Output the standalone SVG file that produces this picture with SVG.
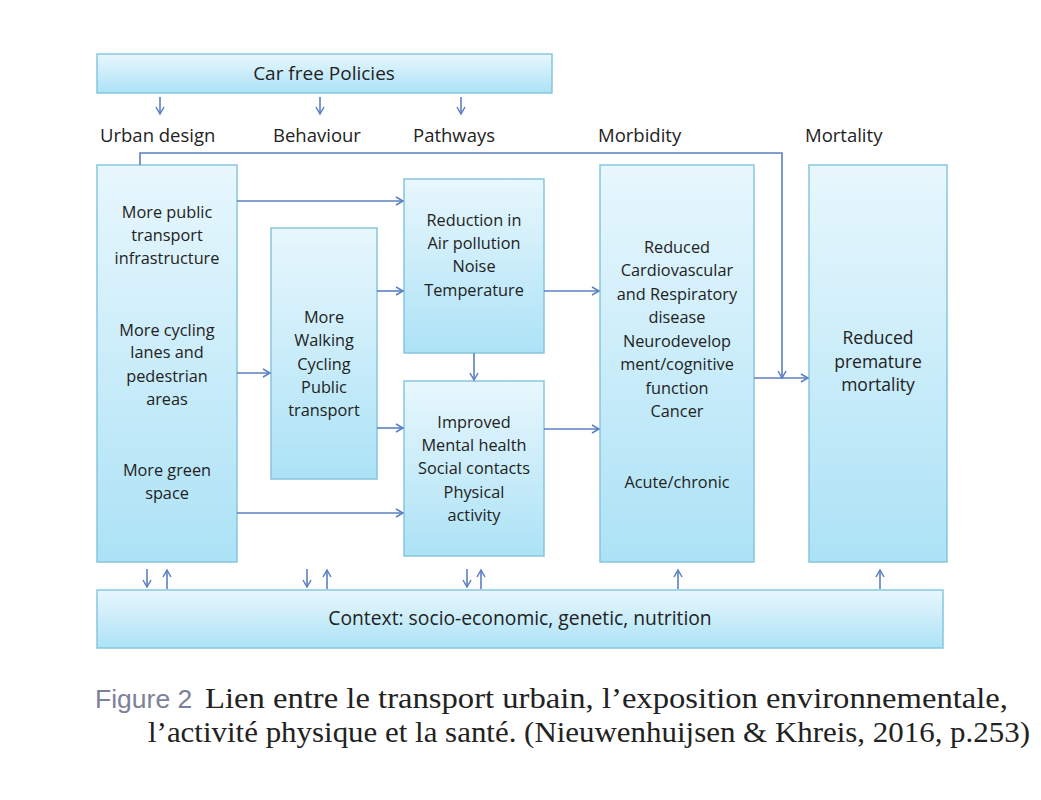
<svg xmlns="http://www.w3.org/2000/svg" width="1041" height="800" viewBox="0 0 1041 800">
<defs>
<linearGradient id="g" x1="0" y1="0" x2="0" y2="1">
<stop offset="0" stop-color="#e8f7fd"/>
<stop offset="1" stop-color="#ace2f6"/>
</linearGradient>
<marker id="a" markerWidth="10" markerHeight="10" refX="8" refY="5" orient="auto" markerUnits="userSpaceOnUse">
<path d="M1,1 L8,5 L1,9" fill="none" stroke="#5b7fc1" stroke-width="1.5"/>
</marker>
<style>
.box{fill:url(#g);stroke:#86c6dd;stroke-width:1.5}
.t{font-family:"Open Sans",Lato,sans-serif;font-size:16.3px;fill:#222;text-anchor:middle}
.h{font-family:"Open Sans",Lato,sans-serif;font-size:18.5px;fill:#222}
.c{fill:none;stroke:#5b7fc1;stroke-width:1.6}
.s{font-family:'Liberation Serif','Times New Roman',serif;font-size:29px;fill:#222}
</style>
</defs>
<rect width="1041" height="800" fill="#fff"/>
<g id="car-free">
<rect class="box" x="97" y="54" width="455" height="39"/>
<text class="t" x="324" y="80" style="font-size:19px">Car free Policies</text>
</g>
<g id="headings">
<text class="h" x="100" y="142">Urban design</text>
<text class="h" x="273" y="142">Behaviour</text>
<text class="h" x="413" y="142">Pathways</text>
<text class="h" x="598" y="142">Morbidity</text>
<text class="h" x="805" y="142">Mortality</text>
</g>
<g id="urban">
<rect class="box" x="97" y="165" width="140" height="397"/>
<text class="t" x="167" y="218">More public</text>
<text class="t" x="167" y="241">transport</text>
<text class="t" x="167" y="264">infrastructure</text>
<text class="t" x="167" y="336">More cycling</text>
<text class="t" x="167" y="358">lanes and</text>
<text class="t" x="167" y="382">pedestrian</text>
<text class="t" x="167" y="405">areas</text>
<text class="t" x="167" y="476">More green</text>
<text class="t" x="167" y="499">space</text>
</g>
<g id="behaviour">
<rect class="box" x="271" y="228" width="106" height="251"/>
<text class="t" x="324" y="323">More</text>
<text class="t" x="324" y="346">Walking</text>
<text class="t" x="324" y="370">Cycling</text>
<text class="t" x="324" y="393">Public</text>
<text class="t" x="324" y="416">transport</text>
</g>
<g id="pathway-env">
<rect class="box" x="404" y="179" width="140" height="174"/>
<text class="t" x="474" y="226">Reduction in</text>
<text class="t" x="474" y="249">Air pollution</text>
<text class="t" x="474" y="272">Noise</text>
<text class="t" x="474" y="296">Temperature</text>
</g>
<g id="pathway-health">
<rect class="box" x="404" y="381" width="140" height="175"/>
<text class="t" x="474" y="428">Improved</text>
<text class="t" x="474" y="451">Mental health</text>
<text class="t" x="474" y="474">Social contacts</text>
<text class="t" x="474" y="498">Physical</text>
<text class="t" x="474" y="521">activity</text>
</g>
<g id="morbidity">
<rect class="box" x="600" y="165" width="154" height="397"/>
<text class="t" x="677" y="253">Reduced</text>
<text class="t" x="677" y="276">Cardiovascular</text>
<text class="t" x="677" y="300">and Respiratory</text>
<text class="t" x="677" y="323">disease</text>
<text class="t" x="677" y="347">Neurodevelop</text>
<text class="t" x="677" y="370">ment/cognitive</text>
<text class="t" x="677" y="394">function</text>
<text class="t" x="677" y="417">Cancer</text>
<text class="t" x="677" y="488">Acute/chronic</text>
</g>
<g id="mortality">
<rect class="box" x="809" y="165" width="138" height="397"/>
<text class="t" x="878" y="344" style="font-size:17.5px">Reduced</text>
<text class="t" x="878" y="368" style="font-size:17.5px">premature</text>
<text class="t" x="878" y="391" style="font-size:17.5px">mortality</text>
</g>
<g id="context">
<rect class="box" x="97" y="590" width="846" height="58"/>
<text class="t" x="520" y="625" style="font-size:19.3px">Context: socio-economic, genetic, nutrition</text>
</g>
<g id="connectors">
<path class="c" d="M160,97 V114" marker-end="url(#a)"/>
<path class="c" d="M320,97 V114" marker-end="url(#a)"/>
<path class="c" d="M461,97 V114" marker-end="url(#a)"/>
<path class="c" d="M140,165 V153 H782 V378" marker-end="url(#a)"/>
<path class="c" d="M237,201 H403" marker-end="url(#a)"/>
<path class="c" d="M377,291 H403" marker-end="url(#a)"/>
<path class="c" d="M544,291 H599" marker-end="url(#a)"/>
<path class="c" d="M474,353 V380" marker-end="url(#a)"/>
<path class="c" d="M237,373 H270" marker-end="url(#a)"/>
<path class="c" d="M377,428 H403" marker-end="url(#a)"/>
<path class="c" d="M544,429 H599" marker-end="url(#a)"/>
<path class="c" d="M237,513 H403" marker-end="url(#a)"/>
<path class="c" d="M754,378 H808" marker-end="url(#a)"/>
<path class="c" d="M147,569 V587" marker-end="url(#a)"/>
<path class="c" d="M167,589 V570" marker-end="url(#a)"/>
<path class="c" d="M307,569 V587" marker-end="url(#a)"/>
<path class="c" d="M327,589 V570" marker-end="url(#a)"/>
<path class="c" d="M467,569 V587" marker-end="url(#a)"/>
<path class="c" d="M481,589 V570" marker-end="url(#a)"/>
<path class="c" d="M678,589 V570" marker-end="url(#a)"/>
<path class="c" d="M880,589 V570" marker-end="url(#a)"/>
</g>
<g id="caption">
<text x="95" y="708" style="font-family:'Liberation Sans',Arial,sans-serif;font-size:26.5px;fill:#7d8198">Figure 2</text>
<text class="s" x="205" y="708" textLength="803" lengthAdjust="spacingAndGlyphs">Lien entre le transport urbain, l’exposition environnementale,</text>
<text class="s" x="148" y="742" textLength="882" lengthAdjust="spacingAndGlyphs">l’activité physique et la santé. (Nieuwenhuijsen &amp; Khreis, 2016, p.253)</text>
</g>
</svg>
